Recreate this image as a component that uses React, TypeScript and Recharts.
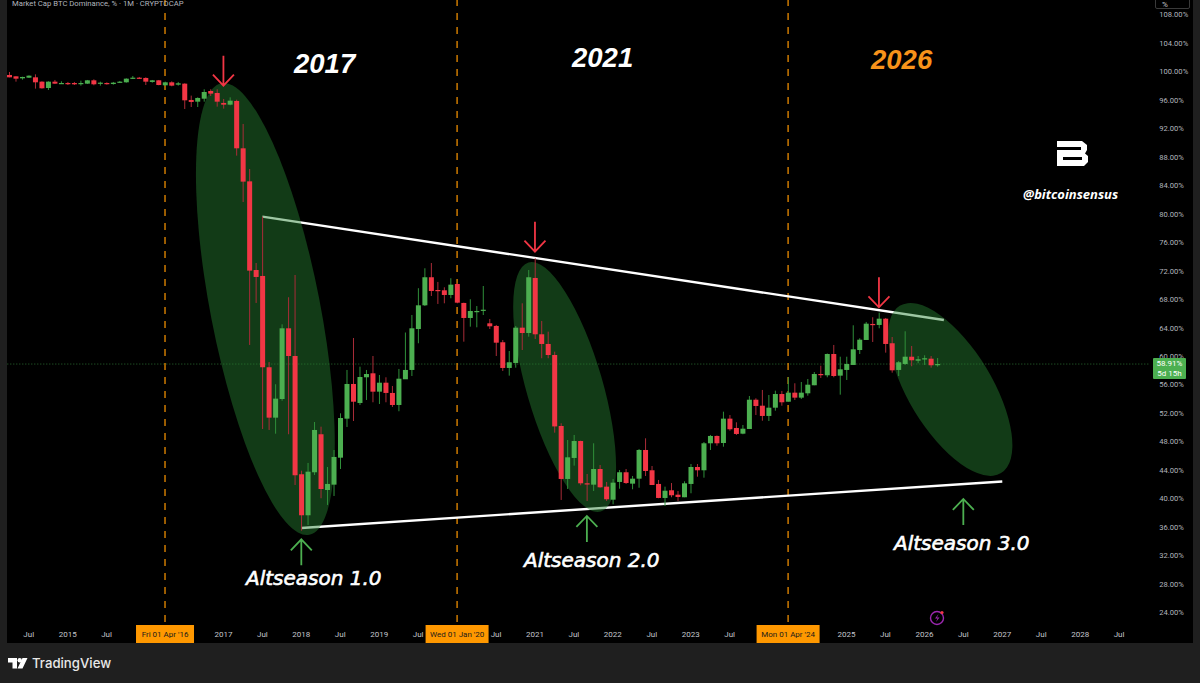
import { Bar, ComposedChart, ReferenceDot, ReferenceLine, XAxis, YAxis } from 'recharts'

const UP = '#4caf50'
const DOWN = '#f23645'
const AMBER = '#ff9800'

// BTC dominance, monthly candles from Apr 2014 to Mar 2026
const opens = [
  99.51, 99.32, 99.04, 99.13, 99.18, 98.57, 97.68, 98.57, 98.29, 98.38,
  98.38, 98.34, 98.29, 98.76, 98.34, 98.38, 98.24, 98.43, 98.48, 98.99,
  99.13, 99.09, 98.53, 98.76, 98.06, 98.48, 98.15, 98.29, 96.0, 95.76,
  96.18, 97.26, 96.98, 95.58, 95.34, 95.86, 89.21, 84.57, 72.12, 71.28,
  58.46, 51.38, 54.0, 63.93, 60.04, 43.43, 37.67, 43.71, 49.05, 41.22,
  41.97, 45.76, 51.24, 56.11, 53.44, 57.05, 57.61, 55.03, 56.29, 54.85,
  53.16, 56.77, 58.08, 63.83, 67.16, 71.1, 69.31, 69.27, 68.61, 70.15,
  67.49, 65.38, 66.26, 66.46, 64.63, 64.26, 61.97, 58.36, 59.06, 64.02,
  63.27, 71.0, 63.09, 61.73, 60.18, 50.21, 42.77, 45.72, 48.1, 42.16,
  41.97, 44.17, 41.69, 39.86, 42.35, 43.71, 42.11, 42.81, 46.84, 43.99,
  42.07, 40.1, 41.18, 40.56, 40.2, 42.07, 44.45, 43.99, 47.78, 48.81,
  47.82, 51.24, 49.93, 49.13, 49.79, 53.9, 53.06, 51.62, 52.78, 54.7,
  53.62, 54.89, 54.19, 54.8, 55.93, 57.51, 57.33, 60.32, 57.28, 58.08,
  58.78, 60.88, 62.29, 64.54, 64.4, 65.28, 61.83, 58.08, 58.92, 59.94,
  59.38, 59.66, 59.66, 58.78,
]
const closes = [
  99.18, 98.99, 99.23, 99.41, 98.48, 97.64, 98.57, 98.29, 98.38, 98.24,
  98.2, 98.38, 98.76, 98.2, 98.43, 98.24, 98.43, 98.57, 98.99, 99.13,
  99.04, 98.57, 98.76, 98.1, 98.48, 98.01, 98.34, 95.95, 95.72, 96.28,
  97.12, 96.89, 95.76, 95.34, 95.9, 89.21, 84.53, 72.03, 71.14, 58.46,
  51.38, 54.05, 63.93, 60.04, 43.29, 37.67, 43.79, 49.65, 41.36, 42.07,
  45.86, 51.33, 56.11, 53.62, 57.09, 57.51, 55.03, 56.29, 54.85, 53.16,
  56.85, 58.08, 63.93, 67.16, 71.1, 69.17, 69.21, 68.61, 70.06, 67.53,
  65.38, 66.36, 66.36, 66.54, 64.21, 61.91, 58.36, 59.16, 64.02, 63.27,
  71.1, 63.09, 61.73, 60.18, 50.15, 42.77, 45.81, 48.1, 42.16, 42.07,
  44.17, 41.6, 39.92, 42.25, 43.71, 42.2, 42.81, 46.84, 43.89, 41.92,
  40.1, 41.12, 40.48, 40.24, 42.16, 44.45, 43.99, 47.78, 48.81, 47.78,
  51.24, 49.75, 49.09, 49.83, 53.9, 53.02, 51.62, 52.78, 54.7, 53.54,
  54.89, 54.19, 54.89, 56.01, 57.51, 57.42, 60.32, 57.23, 58.17, 58.92,
  60.98, 62.33, 64.58, 64.44, 65.28, 61.73, 58.03, 59.16, 59.94, 59.44,
  59.58, 59.72, 58.74, 58.91,
]
const highs = [
  99.93, 99.32, 99.27, 99.46, 99.6, 98.62, 98.62, 98.81, 98.62, 98.53,
  98.53, 98.71, 98.81, 98.9, 98.57, 98.48, 98.53, 98.67, 99.04, 99.37,
  99.23, 99.18, 98.81, 98.81, 98.57, 98.62, 98.53, 98.34, 96.61, 96.37,
  97.5, 97.5, 97.5, 96.14, 96.37, 96.04, 92.63, 86.31, 73.1, 79.61,
  59.2, 56.07, 64.49, 68.29, 71.42, 43.93, 45.02, 50.77, 50.11, 44.45,
  46.84, 51.99, 58.08, 62.57, 58.54, 58.08, 60.04, 57.37, 57.05, 55.83,
  58.22, 63.34, 65.8, 69.56, 72.36, 73.1, 70.44, 69.69, 70.96, 70.25,
  67.53, 68.01, 67.06, 69.87, 65.24, 64.4, 62.29, 60.74, 64.26, 67.44,
  72.12, 73.76, 64.96, 63.46, 60.65, 50.59, 48.24, 48.95, 48.15, 43.47,
  47.78, 44.73, 42.35, 42.77, 44.03, 44.17, 43.19, 46.98, 48.48, 44.59,
  42.63, 41.69, 42.2, 41.08, 42.44, 44.87, 44.87, 47.96, 48.95, 48.88,
  52.22, 51.75, 50.73, 50.35, 54.42, 54.1, 55.27, 54.56, 55.17, 55.13,
  57.05, 56.21, 56.39, 56.81, 57.79, 58.68, 60.39, 61.59, 59.94, 59.94,
  64.35, 62.53, 64.82, 65.48, 66.12, 65.38, 62.71, 59.34, 63.51, 61.45,
  60.04, 60.14, 60.04, 59.76,
]
const lows = [
  99.18, 98.57, 98.85, 99.09, 97.59, 97.59, 97.4, 98.24, 98.24, 98.1,
  98.1, 98.01, 98.24, 98.06, 98.01, 98.15, 98.15, 98.38, 98.43, 98.95,
  98.99, 98.1, 98.43, 98.06, 97.96, 97.92, 98.01, 94.73, 95.01, 95.01,
  95.76, 96.56, 95.06, 94.78, 95.25, 88.18, 81.67, 61.59, 67.49, 49.79,
  49.65, 49.13, 53.76, 49.05, 41.92, 35.51, 36.31, 43.33, 40.06, 39.12,
  40.38, 44.17, 50.07, 50.91, 53.16, 53.86, 53.54, 53.3, 53.54, 52.88,
  52.28, 56.81, 57.23, 61.83, 67.06, 68.47, 67.35, 67.44, 68.15, 67.44,
  62.05, 64.16, 64.07, 65.8, 63.83, 60.04, 57.94, 57.28, 58.4, 60.88,
  62.75, 62.43, 59.72, 59.72, 49.27, 39.82, 41.36, 44.64, 41.88, 39.68,
  41.08, 41.54, 39.68, 39.21, 41.4, 42.07, 41.32, 41.54, 43.19, 41.92,
  40.06, 38.97, 40.2, 39.68, 40.2, 40.76, 43.09, 42.95, 46.84, 47.44,
  47.3, 49.55, 48.95, 49.05, 49.79, 51.75, 50.95, 50.91, 52.36, 53.06,
  53.62, 53.86, 54.0, 54.47, 55.93, 56.95, 57.05, 57.05, 54.61, 56.67,
  58.78, 60.32, 62.29, 62.01, 63.93, 60.51, 57.7, 57.23, 58.78, 58.6,
  59.02, 58.78, 58.4, 58.54,
]

const yTicks = [24, 28, 32, 36, 40, 44, 48, 52, 56, 60, 64, 68, 72, 76, 80, 84, 88, 92, 96, 100, 104, 108]

// time axis labels, those hidden behind the orange date boxes are left out
const xLabels: Record<string, string> = {
  '2014-07': 'Jul', '2015-01': '2015', '2015-07': 'Jul', '2017-01': '2017', '2017-07': 'Jul',
  '2018-01': '2018', '2018-07': 'Jul', '2019-01': '2019', '2019-07': 'Jul', '2020-07': 'Jul',
  '2021-01': '2021', '2021-07': 'Jul', '2022-01': '2022', '2022-07': 'Jul', '2023-01': '2023',
  '2023-07': 'Jul', '2025-01': '2025', '2025-07': 'Jul', '2026-01': '2026', '2026-07': 'Jul',
  '2027-01': '2027', '2027-07': 'Jul', '2028-01': '2028', '2028-07': 'Jul',
}
const dateBoxes: Record<string, { text: string; width: number }> = {
  '2016-04': { text: "Fri 01 Apr '16", width: 58 },
  '2020-01': { text: "Wed 01 Jan '20", width: 63 },
  '2024-04': { text: "Mon 01 Apr '24", width: 63 },
}

const months: string[] = []
for (let i = 0; i < 176; i++) {
  const total = 2014 * 12 + 3 + i
  months.push(`${Math.floor(total / 12)}-${String((total % 12) + 1).padStart(2, '0')}`)
}

const table = months.map((month, i) => ({
  month,
  open: opens[i],
  close: closes[i],
  range: i < opens.length ? [lows[i], highs[i]] : undefined,
}))

const ellipses = [
  { month: '2017-07', value: 66.64, dx: 3, rx: 54.8, ry: 230, angle: -11 },
  { month: '2021-05', value: 55.69, dx: 3.7, rx: 38.1, ry: 129.7, angle: -16.2 },
  { month: '2026-05', value: 55.34, dx: 0, rx: 41.9, ry: 97.8, angle: -31.2 },
]
const sellArrows = [
  { month: '2017-01', value: 98.01 },
  { month: '2021-01', value: 74.69 },
  { month: '2025-06', value: 66.88 },
]
const buyArrows = [
  { month: '2018-01', value: 34.3 },
  { month: '2021-09', value: 37.57 },
  { month: '2026-07', value: 39.96 },
]

function Candle(props: any) {
  const { x, y, width, height, payload } = props
  if (!payload || payload.range === undefined) return null
  const [low, high] = payload.range
  const toPx = (v: number) => y + ((high - v) / (high - low)) * height
  const up = payload.close >= payload.open
  const top = toPx(Math.max(payload.open, payload.close))
  const bottom = toPx(Math.min(payload.open, payload.close))
  const mid = x + width / 2
  return (
    <g>
      <line x1={mid} x2={mid} y1={y} y2={y + height} stroke={up ? '#2f8f3a' : '#a92c38'} strokeWidth={1} />
      <rect x={x} y={top} width={width} height={Math.max(bottom - top, 1.2)} fill={up ? UP : DOWN} />
    </g>
  )
}

function TimeTick(props: any) {
  const { x, y, payload } = props
  const box = dateBoxes[payload.value]
  if (box) {
    return (
      <g>
        <rect x={x - box.width / 2} y={y + 3} width={box.width} height={18} fill={AMBER} />
        <text x={x} y={y + 15} textAnchor="middle" fontSize={8} fill="#1a1a1a">{box.text}</text>
      </g>
    )
  }
  const label = xLabels[payload.value]
  if (!label) return null
  return <text x={x} y={y + 15} textAnchor="middle" fontSize={8} fill="#c4c6cc">{label}</text>
}

function Oval(props: any) {
  const { cx, cy, dx, rx, ry, angle } = props
  const px = cx + dx
  return (
    <ellipse
      cx={px} cy={cy} rx={rx} ry={ry}
      transform={`rotate(${angle} ${px} ${cy})`}
      fill="#288232" fillOpacity={0.45}
    />
  )
}

function DownArrow({ cx, cy }: any) {
  return (
    <path d={`M${cx} ${cy - 30}V${cy}M${cx - 10.5} ${cy - 11}L${cx} ${cy}L${cx + 10.5} ${cy - 11}`}
      fill="none" stroke={DOWN} strokeWidth={1.8} />
  )
}

function UpArrow({ cx, cy }: any) {
  return (
    <path d={`M${cx} ${cy + 26}V${cy}M${cx - 10.5} ${cy + 11}L${cx} ${cy}L${cx + 10.5} ${cy + 11}`}
      fill="none" stroke={UP} strokeWidth={1.8} />
  )
}

const yearStyle = (left: number, top: number, color: string): React.CSSProperties => ({
  position: 'absolute', left, top, color, fontFamily: '"Liberation Sans", Arial, sans-serif',
  fontWeight: 700, fontStyle: 'italic', fontSize: 27.5, lineHeight: '32px',
})
const altStyle = (left: number, top: number): React.CSSProperties => ({
  position: 'absolute', left, top, color: '#fff', fontFamily: '"DejaVu Sans", sans-serif',
  fontStyle: 'italic', fontSize: 20, lineHeight: '26px', whiteSpace: 'nowrap',
  WebkitTextStroke: '0.6px #fff',
})

export default function App() {
  return (
    <div style={{ position: 'absolute', left: 0, top: 0, width: 1200, height: 683, background: '#1f1f1f', overflow: 'hidden', fontFamily: 'Roboto, sans-serif' }}>
      <div style={{ position: 'absolute', left: 7, top: 0, width: 1186, height: 643, background: '#000' }} />
      <div style={{ position: 'absolute', left: 0, top: 0 }}>
        <ComposedChart width={1200} height={683} data={table} margin={{ top: 0, right: 0, left: 6, bottom: 40 }} barCategoryGap={0}>
          <XAxis dataKey="month" axisLine={false} tickLine={false} tickSize={0} tickMargin={0} height={21} interval={0} tick={TimeTick} />
          <YAxis
            orientation="right" width={51.7} domain={[22.68, 110.04]} ticks={yTicks} allowDataOverflow
            axisLine={false} tickLine={false} tickSize={0} tickMargin={11}
            tick={{ fontSize: 7.6, fill: '#b2b5be' }} tickFormatter={(v) => `${v.toFixed(2)}%`}
          />
          <ReferenceLine y={58.91} stroke="#2a6b30" strokeDasharray="1 2" zIndex={40} />
          {Object.keys(dateBoxes).map((m) => (
            <ReferenceLine key={m} x={m} stroke={AMBER} strokeWidth={1.2} strokeDasharray="7 7" zIndex={40} />
          ))}
          <ReferenceLine segment={[{ x: '2017-07', y: 79.61 }, { x: '2026-04', y: 65.1 }]} stroke="#fff" strokeWidth={2.4} zIndex={50} />
          <ReferenceLine segment={[{ x: '2018-01', y: 35.89 }, { x: '2027-01', y: 42.42 }]} stroke="#fff" strokeWidth={2.4} zIndex={50} />
          {ellipses.map((e) => (
            <ReferenceDot key={e.month} x={e.month} y={e.value} zIndex={100} shape={<Oval dx={e.dx} rx={e.rx} ry={e.ry} angle={e.angle} />} />
          ))}
          <Bar dataKey="range" barSize={5} shape={Candle} isAnimationActive={false} zIndex={300} />
          {sellArrows.map((a) => (
            <ReferenceDot key={a.month} x={a.month} y={a.value} zIndex={600} shape={DownArrow} />
          ))}
          {buyArrows.map((a) => (
            <ReferenceDot key={a.month} x={a.month} y={a.value} zIndex={600} shape={UpArrow} />
          ))}
        </ComposedChart>
      </div>

      <div style={{ position: 'absolute', left: 12, top: 0, fontSize: 7.7, lineHeight: '8px', color: '#b2b5be', whiteSpace: 'nowrap' }}>
        Market Cap BTC Dominance, % · 1M · CRYPTOCAP
      </div>
      <div style={{ position: 'absolute', left: 1155, top: -6, width: 35, height: 15, border: '1px solid #3a3a3a', borderRadius: 2, fontSize: 8, lineHeight: '20px', color: '#c4c6cc', paddingLeft: 6, boxSizing: 'border-box' }}>%</div>

      <div style={yearStyle(294, 48, '#fff')}>2017</div>
      <div style={yearStyle(572, 42, '#fff')}>2021</div>
      <div style={yearStyle(871, 44, '#f7931a')}>2026</div>
      <div style={altStyle(246, 565)}>Altseason 1.0</div>
      <div style={altStyle(524, 547)}>Altseason 2.0</div>
      <div style={altStyle(894, 530)}>Altseason 3.0</div>

      <svg style={{ position: 'absolute', left: 1057, top: 141 }} width={32} height={26}>
        <path d="M0 0H25L30 4V9L28 12.5L31 15V21L27 25H0ZM0 6V9H24V6ZM6 16V19H25V16Z" fill="#fff" fillRule="evenodd" />
      </svg>
      <div style={{ position: 'absolute', left: 1023, top: 186, fontFamily: '"Open Sans", sans-serif', fontWeight: 700, fontStyle: 'italic', fontSize: 13, lineHeight: '16px', color: '#fff', whiteSpace: 'nowrap' }}>
        @bitcoinsensus
      </div>

      <div style={{ position: 'absolute', left: 1153, top: 358, width: 33, height: 21, background: UP, borderRadius: 1, color: '#fff', fontSize: 8, lineHeight: '10px', textAlign: 'center', paddingTop: 1, boxSizing: 'border-box' }}>
        58.91%<br />5d 15h
      </div>

      <svg style={{ position: 'absolute', left: 928, top: 608 }} width={20} height={20}>
        <circle cx={9} cy={10} r={6.5} fill="none" stroke="#9c27b0" strokeWidth={1.4} />
        <path d="M10.5 6L7 10.5H9.5L8 14L11.5 9.5H9Z" fill="#9c27b0" />
        <circle cx={14} cy={4.5} r={1.6} fill={DOWN} />
      </svg>

      <svg style={{ position: 'absolute', left: 8, top: 657 }} width={20} height={13}>
        <path d="M0 1H9V11.5H4.5V5.5H0ZM14.5 1H19.5L14.5 11.5H9.5Z" fill="#fff" />
        <circle cx={11.7} cy={3.2} r={2.2} fill="#fff" />
      </svg>
      <div style={{ position: 'absolute', left: 32, top: 654, fontFamily: 'Inter, sans-serif', fontWeight: 500, fontSize: 13.2, lineHeight: '18px', color: '#e8e8e8' }}>
        TradingView
      </div>
    </div>
  )
}
